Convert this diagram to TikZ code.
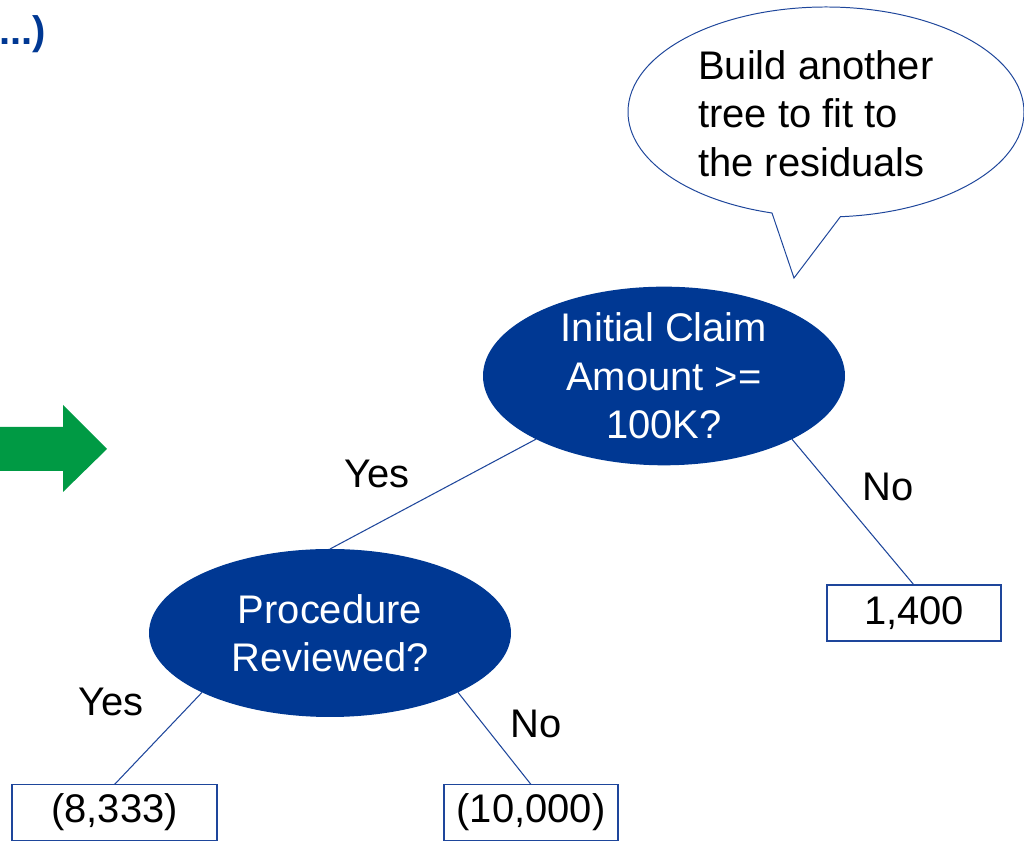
\documentclass[tikz,border=0pt]{standalone}
\usepackage{fontspec}
\setmainfont{Liberation Sans}
\usetikzlibrary{shapes.geometric}
\usetikzlibrary{shapes.callouts}

\definecolor{nodeblue}{RGB}{0,56,147}
\definecolor{linkblue}{RGB}{30,70,155}
\definecolor{arrowgreen}{RGB}{0,154,68}

\begin{document}
\begin{tikzpicture}[
  font=\fontsize{28.4pt}{34.5pt}\selectfont,
  split/.style={ellipse, fill=nodeblue, text=white, inner sep=0pt, outer sep=0pt,
    minimum width=9.05cm, minimum height=4.2cm, align=center},
  leaf/.style={draw=linkblue, line width=0.8pt, inner sep=0pt, outer sep=0pt,
    minimum width=4.35cm, minimum height=1.4cm},
  branch/.style={draw=linkblue, line width=0.75pt},
  answer/.style={inner sep=0pt}
]
\useasboundingbox (0,0) rectangle (25.6,21.025);

% title tail and the green step arrow
\node[anchor=base east, inner sep=0pt, text=nodeblue, font=\fontsize{28.4pt}{34pt}\selectfont\bfseries] (title) at (1.15,19.9) {...)};
\fill[arrowgreen] (0,10.35) -- (1.575,10.35) -- (1.575,10.9) -- (2.675,9.8)
  -- (1.575,8.725) -- (1.575,9.25) -- (0,9.25) -- cycle;

% the tree
\node[split] (claim) at (16.6,11.625) {Initial Claim\\Amount >=\\100K?};
\node[split] (review) at (8.25,5.2) {Procedure\\Reviewed?};
\node[leaf] (big) at (22.85,5.7) {1,400};
\node[leaf, minimum width=5.125cm] (yesleaf) at (2.8625,0.7125) {(8,333)};
\node[leaf] (noleaf) at (13.275,0.7125) {(10,000)};

\draw[branch] (claim.south west) -- (review.north);
\draw[branch] (claim.south east) -- (big.north);
\draw[branch] (review.south west) -- (yesleaf.north);
\draw[branch] (review.south east) -- (noleaf.north);

\node[answer] (yestop) at (9.425,9.175) {Yes};
\node[answer] (notop) at (22.2,8.85) {No};
\node[answer] (yeslow) at (2.775,3.475) {Yes};
\node[answer] (nolow) at (13.4,2.925) {No};

% speech bubble
\coordinate (tip) at (19.85,14.075);
\node[ellipse callout, draw=linkblue, line width=0.7pt, fill=white, inner sep=0pt,
  minimum width=9.9cm, minimum height=5.25cm,
  callout absolute pointer={(tip)}, callout pointer arc=20] (bubble) at (20.65,18.225) {};
\node[anchor=west, inner sep=0pt, align=left] (note) at (17.45,18.19)
  {Build another\\tree to fit to\\the residuals};
\end{tikzpicture}
\end{document}
